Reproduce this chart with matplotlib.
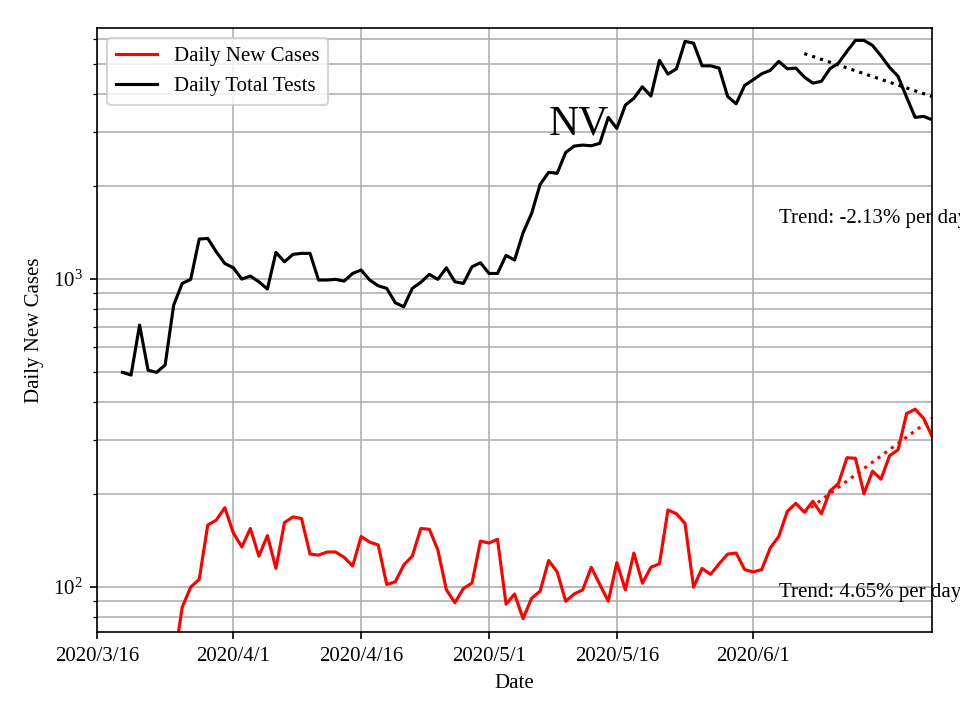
import matplotlib
matplotlib.use("Agg")
import matplotlib.pyplot as plt
import numpy as np
import pandas as pd

plt.rcParams["font.family"] = ["Liberation Serif", "DejaVu Serif"]
plt.rcParams["mathtext.fontset"] = "stix"

# daily data from 2020/3/19 to 2020/6/22
start_date = "2020-03-19"
daily_tests = [
    498, 488, 709, 506, 498, 526, 823, 968, 998, 1349,
    1355, 1226, 1124, 1088, 1000, 1023, 980, 928, 1221, 1138,
    1203, 1212, 1212, 993, 993, 998, 985, 1043, 1070, 993,
    951, 933, 838, 813, 933, 976, 1036, 998, 1088, 980,
    968, 1096, 1130, 1043, 1043, 1194, 1153, 1414, 1634, 2030,
    2221, 2205, 2578, 2703, 2723, 2709, 2758, 3350, 3085, 3672,
    3862, 4212, 3929, 5129, 4630, 4817, 5912, 5835, 4925, 4925,
    4842, 3918, 3707, 4255, 4437, 4640, 4760, 5091, 4817, 4842,
    4527, 4327, 4385, 4817, 5024, 5487, 5957, 5957, 5738, 5308,
    4867, 4552, 3898, 3350, 3375, 3289,
]
daily_cases = [
    4, 8, 12, 18, 25, 38, 56, 86, 100, 106,
    159, 165, 181, 150, 135, 155, 126, 147, 115, 162,
    169, 167, 128, 127, 130, 130, 125, 117, 146, 140,
    137, 102, 104, 118, 126, 155, 154, 132, 98, 89,
    99, 103, 141, 139, 143, 88, 95, 79, 92, 97,
    122, 112, 90, 95, 98, 116, 102, 90, 120, 98,
    129, 103, 116, 119, 178, 173, 161, 100, 115, 110,
    119, 128, 129, 114, 112, 114, 134, 146, 176, 187,
    175, 190, 173, 205, 217, 263, 262, 201, 238, 224,
    267, 279, 366, 378, 353, 308,
]
trend_tests = -2.13
trend_cases = 4.65
state = "NV"

tick_dates = ["2020-03-16", "2020-04-01", "2020-04-16", "2020-05-01", "2020-05-16", "2020-06-01"]
tick_labels = ["2020/3/16", "2020/4/1", "2020/4/16", "2020/5/1", "2020/5/16", "2020/6/1"]

dates = pd.date_range(start_date, periods=len(daily_tests), freq="D")
n_fit = 16

fig, ax = plt.subplots(figsize=(6.4, 4.8), dpi=150)

ax.plot(dates, daily_cases, color="red", label="Daily New Cases")
ax.plot(dates, daily_tests, color="black", label="Daily Total Tests")


def fit_line(values):
    x = np.arange(n_fit)
    coef = np.polyfit(x, np.log(values[-n_fit:]), 1)
    return np.exp(np.polyval(coef, x))


ax.plot(dates[-n_fit:], fit_line(daily_tests), color="black", linestyle=":")
ax.plot(dates[-n_fit:], fit_line(daily_cases), color="red", linestyle=":")

ax.set_yscale("log")
ax.set_ylim(71.4, 6530)
ax.set_xlim(pd.Timestamp("2020-03-16"), dates[-1])
ax.set_xticks(pd.to_datetime(tick_dates))
ax.set_xticklabels(tick_labels)

ax.text(pd.Timestamp("2020-06-04"), 1578, f"Trend: {trend_tests:.2f}% per day", va="center")
ax.text(pd.Timestamp("2020-06-04"), 96, f"Trend: {trend_cases:.2f}% per day", va="center")
ax.text(pd.Timestamp("2020-05-08"), 2950, state, fontsize=20)

ax.grid(True, which="both")
ax.set_xlabel("Date")
ax.set_ylabel("Daily New Cases")
ax.legend(loc="upper left")

plt.subplots_adjust(left=0.101, right=0.971, top=0.961, bottom=0.122)
plt.savefig("out.png")
